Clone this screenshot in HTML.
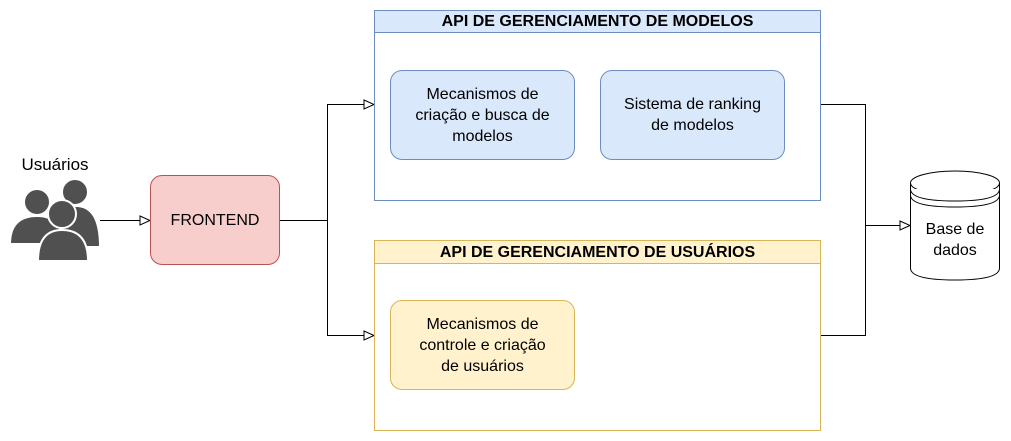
<!DOCTYPE html>
<html><head><style>
body{margin:0;width:1011px;height:441px;background:#fff;position:relative;font-family:"Liberation Sans",sans-serif;overflow:hidden}
.a{position:absolute;box-sizing:border-box;display:flex;align-items:center;justify-content:center;text-align:center;font-size:16px;color:#000;line-height:21px}
</style></head><body>
<svg width="1011" height="441" style="position:absolute;left:0;top:0">
<g fill="none" stroke="#000" stroke-width="1">
<path d="M100 220.5H140"/>
<path d="M280 220.5H327.5V104.5H364M327.5 220.5V335.5H364"/>
<path d="M820 104.5H865.5V335.5H820M865.5 225.5H900"/>
</g>
<g fill="#fff" stroke="#000">
<path d="M140 216L150 220.5L140 225Z"/>
<path d="M364 100L374 104.5L364 109Z"/>
<path d="M364 331L374 335.5L364 340Z"/>
<path d="M900 221L910 225.5L900 230Z"/>
</g>
<g fill="#505050" stroke="#fff" stroke-width="2">
<circle cx="75" cy="192" r="13"/>
<path d="M52 247Q52 205 75 206Q100 205 100 247Z"/>
<circle cx="37" cy="202" r="13"/>
<path d="M10 244Q10 216 37 216Q63 216 63 244Z"/>
<circle cx="62" cy="214" r="14"/>
<path d="M38 261Q38 230 62 230Q88 230 88 261Z"/>
</g>
<g fill="#fff" stroke="#000">
<path d="M910.5 183V268Q910.5 280 955 280Q999.5 280 999.5 268V183"/>
<ellipse cx="955" cy="183" rx="44.5" ry="12"/>
<path d="M910.5 189Q910.5 201 955 201Q999.5 201 999.5 189M910.5 195Q910.5 207 955 207Q999.5 207 999.5 195"/>
</g>
</svg>
<div class="a" style="left:0;top:153px;width:110px;height:22px;font-size:17px">Usuários</div>
<div class="a" style="left:150px;top:175px;width:130px;height:90px;background:#f8cecc;border:1px solid #b85450;border-radius:12px">FRONTEND</div>
<div class="a" style="left:374px;top:10px;width:447px;height:191px;border:1px solid #6c8ebf"></div>
<div class="a" style="left:374px;top:10px;width:447px;height:23px;background:#dae8fc;border:1px solid #6c8ebf;font-weight:bold;font-size:16px">API DE GERENCIAMENTO DE MODELOS</div>
<div class="a" style="left:374px;top:240px;width:447px;height:191px;border:1px solid #d6b656"></div>
<div class="a" style="left:374px;top:240px;width:447px;height:24px;background:#fff2cc;border:1px solid #d6b656;font-weight:bold;font-size:16px">API DE GERENCIAMENTO DE USUÁRIOS</div>
<div class="a" style="left:390px;top:70px;width:185px;height:90px;background:#dae8fc;border:1px solid #6c8ebf;border-radius:12px">Mecanismos de<br>criação e busca de<br>modelos</div>
<div class="a" style="left:600px;top:70px;width:185px;height:90px;background:#dae8fc;border:1px solid #6c8ebf;border-radius:12px">Sistema de ranking<br>de modelos</div>
<div class="a" style="left:390px;top:300px;width:185px;height:90px;background:#fff2cc;border:1px solid #d6b656;border-radius:12px">Mecanismos de<br>controle e criação<br>de usuários</div>
<div class="a" style="left:910px;top:215px;width:90px;height:50px">Base de<br>dados</div>
</body></html>
